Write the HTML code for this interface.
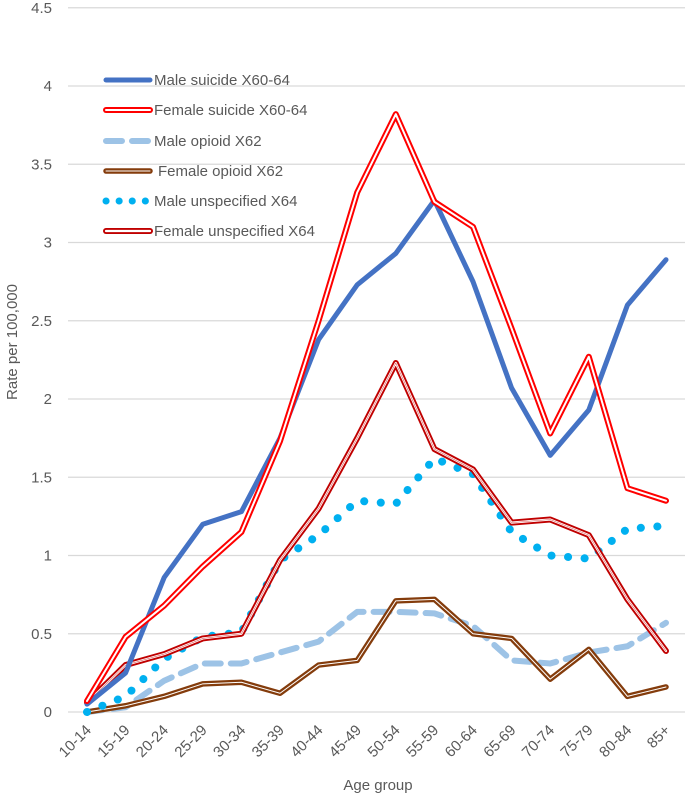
<!DOCTYPE html>
<html><head><meta charset="utf-8"><style>
body{margin:0;background:#fff;font-family:"Liberation Sans",sans-serif;}
text{font-family:"Liberation Sans",sans-serif;fill:#595959;}
</style></head><body>
<svg id="chart" width="685" height="796" xmlns="http://www.w3.org/2000/svg"></svg>
<script>
const categories=["10-14","15-19","20-24","25-29","30-34","35-39","40-44","45-49","50-54","55-59","60-64","65-69","70-74","75-79","80-84","85+"];
const maleSuicide=[0.05,0.25,0.86,1.2,1.28,1.75,2.38,2.73,2.93,3.27,2.75,2.07,1.64,1.93,2.6,2.89];
const femaleSuicide=[0.07,0.48,0.68,0.93,1.15,1.73,2.5,3.32,3.82,3.26,3.1,2.45,1.78,2.27,1.43,1.35];
const maleOpioid=[0,0.03,0.2,0.31,0.31,0.38,0.45,0.64,0.64,0.63,0.55,0.33,0.31,0.38,0.42,0.57];
const femaleOpioid=[0,0.04,0.1,0.18,0.19,0.12,0.3,0.33,0.71,0.72,0.5,0.47,0.21,0.4,0.1,0.16];
const maleUnspec=[0,0.1,0.34,0.48,0.51,0.97,1.13,1.35,1.33,1.62,1.52,1.15,1.0,0.98,1.17,1.19];
const femaleUnspec=[0.06,0.3,0.37,0.47,0.5,0.97,1.3,1.75,2.23,1.68,1.55,1.21,1.23,1.13,0.72,0.39];
const yTicks=["0","0.5","1","1.5","2","2.5","3","3.5","4","4.5"];
const NS="http://www.w3.org/2000/svg",svg=document.getElementById('chart');
const X0=87,DX=38.6,Y0=712,PU=156.5;
const xs=i=>X0+i*DX, ys=v=>Y0-v*PU;
function mk(t,a,p){const e=document.createElementNS(NS,t);for(const k in a)e.setAttribute(k,a[k]);(p||svg).appendChild(e);return e;}
yTicks.forEach((t,i)=>{const v=parseFloat(t);
 const g=mk('line',{x1:68,x2:685,y1:ys(v),y2:ys(v),stroke:'#d9d9d9','stroke-width':1.3});
 
 
 const l=mk('text',{x:52,y:ys(v)+5,'text-anchor':'end','font-size':15});l.textContent=t;
 
 
});
categories.forEach((c,i)=>{const x=xs(i)+5,y=731;
 const l=mk('text',{x:x,y:y,'text-anchor':'end','font-size':15,transform:`rotate(-45 ${x} ${y})`});l.textContent=c;
 
 
});
let t=mk('text',{x:378,y:790,'text-anchor':'middle','font-size':15});t.textContent='Age group';

t=mk('text',{x:17,y:342,'text-anchor':'middle','font-size':15,transform:'rotate(-90 17 342)'});t.textContent='Rate per 100,000';

const pts=d=>d.map((v,i)=>xs(i)+','+ys(v)).join(' ');
function series(d,name,layers){const g=mk('g',{});
 
 
 layers.forEach(s=>mk('polyline',Object.assign({points:pts(d),fill:'none','stroke-linejoin':'round','stroke-linecap':'round'},s),g));}
series(maleOpioid,'male-opioid-line',[{stroke:'#9dc3e6','stroke-width':6,'stroke-dasharray':'16 10','stroke-linecap':'round'}]);
series(femaleOpioid,'female-opioid-line',[{stroke:'#843c0c','stroke-width':5.5},{stroke:'#fff','stroke-width':1}]);
series(maleUnspec,'male-unspecified-line',[{stroke:'#00b0f0','stroke-width':8,'stroke-dasharray':'0.1 16.5'}]);
series(femaleUnspec,'female-unspecified-line',[{stroke:'#c00000','stroke-width':6},{stroke:'#fff','stroke-width':2.2},{stroke:'#e06060','stroke-width':0.6}]);
series(maleSuicide,'male-suicide-line',[{stroke:'#4472c4','stroke-width':5}]);
series(femaleSuicide,'female-suicide-line',[{stroke:'#ff0000','stroke-width':6},{stroke:'#fff','stroke-width':2}]);
const legend=[["Male suicide X60-64",[{stroke:'#4472c4','stroke-width':5}]],
["Female suicide X60-64",[{stroke:'#ff0000','stroke-width':6},{stroke:'#fff','stroke-width':2}]],
["Male opioid X62",[{stroke:'#9dc3e6','stroke-width':6,'stroke-dasharray':'16 10'}]],
["Female opioid X62",[{stroke:'#843c0c','stroke-width':5.5},{stroke:'#fff','stroke-width':1}]],
["Male unspecified X64",[{stroke:'#00b0f0','stroke-width':7,'stroke-dasharray':'0.1 13'}]],
["Female unspecified X64",[{stroke:'#c00000','stroke-width':6},{stroke:'#fff','stroke-width':2.2}]]];
const ly=[80,110,141,171,201,231];
legend.forEach((e,i)=>{const g=mk('g',{});
 
 
 e[1].forEach(s=>mk('line',Object.assign({x1:106,x2:150,y1:ly[i],y2:ly[i],'stroke-linecap':'round'},s),g));
 const tx=mk('text',{x:i==3?158:154,y:ly[i]+5,'font-size':15},g);tx.textContent=e[0];});
</script>
</body></html>
